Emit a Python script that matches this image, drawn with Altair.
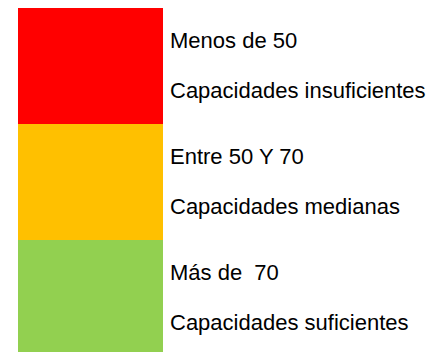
import altair as alt
import pandas as pd

categorias = ["insuficientes", "medianas", "suficientes"]
linea1 = ["Menos de 50", "Entre 50 Y 70", "Más de\u00a0 70"]
linea2 = ["Capacidades insuficientes", "Capacidades medianas", "Capacidades suficientes"]
colores = ["#ff0000", "#ffc000", "#92d050"]

df = pd.DataFrame({"cat": categorias, "l1": linea1, "l2": linea2})

FONT = "Liberation Sans"

yenc = alt.Y("cat:N", sort=categorias, axis=None,
             scale=alt.Scale(paddingInner=0, paddingOuter=0))

rect = alt.Chart(df).mark_rect().encode(
    y=yenc,
    x=alt.value(0),
    x2=alt.value(145),
    color=alt.Color("cat:N", scale=alt.Scale(domain=categorias, range=colores), legend=None),
)

t1 = alt.Chart(df).mark_text(align="left", baseline="alphabetic", font=FONT,
                             fontSize=22, color="black", dy=-18).encode(
    y=yenc, x=alt.value(152), text="l1:N")

t2 = alt.Chart(df).mark_text(align="left", baseline="alphabetic", font=FONT,
                             fontSize=22, color="black", dy=32).encode(
    y=yenc, x=alt.value(152), text="l2:N")

chart = alt.layer(rect, t1, t2).properties(
    width=414, height=348,
    padding={"left": 10, "top": 0, "right": 0, "bottom": 0},
    autosize=alt.AutoSizeParams(type="none"),
).configure_view(stroke=None)

chart.save("out.html", embed_options={"renderer": "svg", "actions": False})
